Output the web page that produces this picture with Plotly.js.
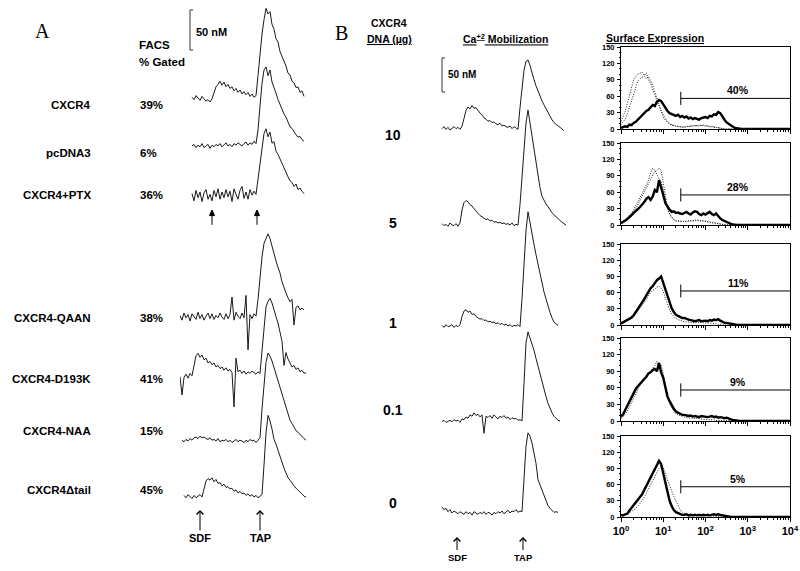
<!DOCTYPE html>
<html><head><meta charset="utf-8">
<script src="https://cdn.plot.ly/plotly-3.0.1.min.js"></script>
<style>html,body{margin:0;padding:0;background:#fff}#chart{width:800px;height:571px}</style>
</head><body><div id="chart"></div>
<script>
// ================= DATA =================
// time (s) shared by all calcium traces
const timeSec = [0,2,4,6,8,10,12,14,16,18,20,22,24,26,28,30,32,34,36,38,40,42,44,46,48,50,52,54,56,58,60,62,64,
66,68,70,72,74,76,78,80,82,84,86,88,90,92,94,96,98,100,102,104,106,108,110,112,114,116,118,120,122,124,126,128,130];

// Panel A: constructs, FACS % gated, Ca2+ traces (nM above baseline)
const constructNames = ['CXCR4','pcDNA3','CXCR4+PTX','CXCR4-QAAN','CXCR4-D193K','CXCR4-NAA','CXCR4\u0394tail'];
const facsGated = ['39%','6%','36%','38%','41%','15%','45%'];

const caA_CXCR4 = [null,null,null,null,null,null,1,-2,3,0,-3,
2,-1,-4,-2,-5,-1,6,14,17,21,16,
20,14,17,12,14,9,12,7,10,5,8,
4,7,2,5,1,3,28,55,80,98,112,
105,108,92,86,74,70,58,52,44,40,31,
29,21,19,13,14,7,9,2,null,null,null];
const caA_pcDNA3 = [null,null,null,null,null,null,0,2,-2,1,-1,
3,-2,0,2,-3,1,-1,2,0,3,-1,
1,4,0,2,-1,3,1,4,2,0,3,
5,1,4,2,6,3,20,50,78,95,99,
88,95,80,74,66,58,52,45,40,36,31,
24,22,17,14,11,12,8,6,null,null,null];
const caA_PTX = [null,null,null,null,null,null,3,-6,7,-2,5,
-7,4,8,-4,2,-6,7,-1,9,-4,5,
-2,8,-1,6,-7,9,2,-4,7,12,-3,
5,-4,8,1,6,2,22,45,65,78,84,
74,80,66,68,56,52,46,42,34,30,24,
19,17,12,15,8,10,6,3,null,null,null];
const caA_QAAN = [2,-4,5,-1,3,-5,4,0,-3,6,-2,
3,-4,1,5,-2,4,-3,2,-1,5,0,
-3,4,-2,3,25,-4,6,1,-2,5,-1,
27,-41,3,-2,4,1,22,50,75,92,99,
104,98,88,80,70,62,55,44,36,30,24,
19,22,-10,12,14,9,11,9,null,null,null];
const caA_D193K = [-2,-25,-3,1,-4,2,-1,12,24,27,22,
25,19,21,15,17,13,15,10,12,8,10,
6,9,5,7,3,-40,21,4,6,2,5,
1,4,2,5,3,1,4,2,30,62,85,
92,96,90,80,73,65,55,42,12,28,20,
14,10,12,7,9,4,6,2,3,null,null];
const caA_NAA = [null,1,-1,2,0,3,1,4,5,3,6,
4,5,3,2,4,1,2,0,3,-1,1,
0,2,-1,1,-2,0,2,-1,1,0,-2,
1,-1,2,0,1,-2,1,4,40,75,98,
110,106,100,92,84,76,68,58,51,44,36,
26,22,17,13,11,8,5,3,1,null,null];
const caA_dtail = [null,null,2,-1,3,0,-2,2,-1,1,3,
0,12,20,23,21,24,19,22,17,18,14,
16,12,13,10,11,7,9,5,7,4,5,
2,4,1,3,0,2,-1,1,3,40,80,
102,95,85,72,66,58,50,44,36,30,24,
21,17,14,11,8,6,4,1,0,null,null];

// Panel B: CXCR4 DNA doses (ug) and Ca2+ traces (nM above baseline)
const doses = ['10','5','1','0.1','0'];
const caB_10 = [null,-1,2,-2,1,-3,0,2,-1,1,-2,
3,14,26,31,28,33,29,30,25,22,19,
15,13,10,11,8,9,6,5,7,3,4,
2,1,3,-1,2,0,-2,30,60,85,98,
100,92,80,71,62,54,46,40,34,28,23,
17,12,8,5,3,1,-2,-4,null,null,null];
const caB_5 = [null,2,-1,1,-2,3,0,-1,2,-2,3,
22,33,36,34,30,28,24,20,17,14,12,
10,8,9,6,7,4,5,3,4,2,3,
1,2,0,3,-1,1,0,30,70,110,150,
169,150,128,108,88,70,55,42,36,31,27,
22,18,15,12,10,7,4,2,0,null,null];
const caB_1 = [null,1,-2,2,-1,0,2,-2,1,-1,2,
14,22,24,20,22,17,18,14,12,10,11,
8,9,6,7,5,6,3,5,2,4,1,
3,0,2,-1,1,0,2,-1,40,95,140,
168,150,135,120,105,90,76,62,50,40,28,
20,12,6,3,1,null,null,null,null,null,null];
const caB_01 = [null,-1,1,-2,0,1,-1,2,0,1,-2,
3,2,6,4,9,7,12,8,10,6,9,
-18,7,5,8,4,9,6,3,7,5,8,
4,6,2,5,3,4,1,2,0,55,115,
131,122,115,104,92,80,70,58,46,36,26,
18,12,7,4,1,0,null,null,null,null,null];
const caB_0 = [null,6,2,4,-1,2,-3,0,-2,-4,-1,
-3,-5,-1,-4,-2,-6,-1,-3,-5,-2,-4,
-1,-5,-2,-3,-6,-2,-4,-1,-3,0,-4,
-2,1,-3,0,-1,2,-2,0,-1,40,95,
115,110,100,85,70,46,38,31,22,13,8,
4,1,-2,-1,-2,null,null,null,null,null,null];

// Surface expression histograms: fluorescence (log bins) and counts
const histX = [1,1.122,1.259,1.413,1.585,1.778,1.995,2.239,2.512,2.818,
3.162,3.548,3.981,4.467,5.012,5.623,6.310,7.079,7.943,8.913,
10,11.22,12.59,14.13,15.85,17.78,19.95,22.39,25.12,28.18,
31.62,35.48,39.81,44.67,50.12,56.23,63.10,70.79,79.43,89.13,
100,112.2,125.9,141.3,158.5,177.8,199.5,223.9,251.2,281.8,
316.2,354.8,398.1,446.7,501.2,562.3,631.0,707.9,794.3,891.3,
1000,3162,10000];

const hist10_cxcr4 = [2,3,5,4,8,7,11,13,17,20, 24,29,33,35,40,44,42,50,53,51, 45,38,33,29,27,25,24,26,22,24,
21,23,19,21,18,20,19,17,20,21, 22,20,24,23,27,26,31,29,22,17, 12,9,6,4,2,1,0,0,0,0, 0,0,0];
const hist10_ctrlA = [14,22,32,47,62,78,90,96,100,102, 104,98,103,90,84,72,62,50,40,30, 22,16,12,9,7,6,5,4,4,3,
4,5,4,6,5,7,6,7,6,7, 6,5,5,4,4,3,2,1,1,0, 0,0,0,0,0,0,0,0,0,0, 0,0,0];
const hist10_ctrlB = [8,12,18,28,40,55,68,80,88,92, 95,97,92,96,88,80,68,56,44,34, 26,19,14,10,8,6,5,5,4,4,
3,4,5,5,6,6,5,6,7,6, 5,6,4,5,3,3,2,2,1,0, 0,0,0,0,0,0,0,0,0,0, 0,0,0];

const hist5_cxcr4 = [3,5,8,11,14,18,22,25,29,33, 37,42,48,51,46,52,64,60,82,70, 55,40,33,28,24,25,22,23,21,20,
22,24,21,19,23,25,24,20,18,21, 19,22,24,20,18,21,16,12,9,7, 5,4,2,1,0,0,0,0,0,0, 0,0,0];
const hist5_ctrlA = [5,7,10,14,18,22,28,35,42,50, 58,66,75,82,95,104,100,92,85,80, 62,45,30,20,14,10,8,8,7,7,
6,7,8,7,8,9,8,9,8,7, 6,5,5,4,4,3,2,1,1,0, 0,0,0,0,0,0,0,0,0,0, 0,0,0];
const hist5_ctrlB = [4,6,8,11,15,19,24,30,37,44, 52,60,68,76,84,92,98,100,104,100, 75,52,32,20,13,9,7,7,6,6,
7,6,7,8,7,8,9,8,7,8, 7,6,5,5,4,3,3,2,1,0, 0,0,0,0,0,0,0,0,0,0, 0,0,0];

const hist1_cxcr4 = [3,5,7,9,11,14,18,24,30,34, 40,48,55,62,68,72,78,83,86,90, 78,66,52,40,31,24,19,17,15,13,
13,11,10,9,8,7,8,9,7,8, 8,7,9,8,10,9,11,8,6,4, 4,3,2,1,1,0,0,0,0,0, 0,0,0];
const hist1_ctrl = [2,3,5,7,9,12,15,20,25,30, 35,42,48,55,60,64,66,70,72,68, 62,50,38,28,20,15,12,10,8,7,
6,6,5,6,5,4,5,4,5,4, 4,3,4,3,3,2,2,1,1,0, 0,0,0,0,0,0,0,0,0,0, 0,0,0];

const hist01_cxcr4 = [8,12,20,28,36,45,52,58,63,68, 72,76,80,86,88,92,94,90,105,88, 78,60,44,36,28,22,17,15,13,11,
11,10,9,10,8,9,8,7,9,8, 8,7,8,9,7,8,6,7,6,5, 6,4,3,2,1,0,0,0,0,0, 0,0,0];
const hist01_ctrl = [5,8,12,18,25,33,42,50,58,65, 70,75,80,85,88,95,100,108,98,102, 85,65,45,32,24,18,13,11,9,8,
7,6,6,5,5,4,5,4,4,3, 3,3,2,2,2,1,1,1,0,0, 0,0,0,0,0,0,0,0,0,0, 0,0,0];

const hist0_cxcr4 = [4,3,5,6,12,17,22,26,30,36, 42,50,58,66,74,82,88,95,104,98, 81,62,44,30,20,13,9,7,5,4,
4,5,3,4,3,4,3,4,3,4, 3,4,3,4,5,4,5,4,3,2, 2,1,0,0,0,0,0,0,0,0, 0,0,0];
const hist0_ctrl = [2,3,4,6,8,10,13,16,20,25, 30,36,44,52,60,68,76,84,90,95, 92,80,68,58,48,38,31,22,13,9,
7,5,5,4,4,3,4,3,3,2, 3,2,2,2,1,1,1,1,0,0, 0,0,0,0,0,0,0,0,0,0, 0,0,0];

const gateLabels = ['40%','28%','11%','9%','5%'];
const gateStart = 26;                 // fluorescence where the gate begins
const gateLevels = [56,55,63,56,56];  // count level where the gate marker is drawn
const histTicksY = [0,30,60,90,120,150];
const histTicksX = [1,10,100,1000,10000];
const histTickText = ['10<sup>0</sup>','10<sup>1</sup>','10<sup>2</sup>','10<sup>3</sup>','10<sup>4</sup>'];

// stimulus times (s) marked by arrows
const ptxArrowTimes = [32, 77];

// ================= LAYOUT HELPERS =================
const W = 800, H = 571;
const fx = p => p / W;
const fy = p => 1 - p / H;
const FONT = 'Liberation Sans, Arial, Helvetica, sans-serif';
const SERIF = 'Liberation Serif, Times New Roman, serif';

const tracesA = [caA_CXCR4, caA_pcDNA3, caA_PTX, caA_QAAN, caA_D193K, caA_NAA, caA_dtail];
const baseA = [98, 146, 196, 317, 375, 441, 497];
const labelYA = [97, 145, 195, 318, 379, 439, 498];
const pxA = 0.8;   // px per nM
const tracesB = [caB_10, caB_5, caB_1, caB_01, caB_0];
const baseB = [128, 225, 326, 421, 511];
const labelYB = [125, 223, 323, 420, 513];
const pxB = 0.68;

const histSets = [
  {solid: hist10_cxcr4, dotted: [hist10_ctrlA, hist10_ctrlB]},
  {solid: hist5_cxcr4, dotted: [hist5_ctrlA, hist5_ctrlB]},
  {solid: hist1_cxcr4, dotted: [hist1_ctrl]},
  {solid: hist01_cxcr4, dotted: [hist01_ctrl]},
  {solid: hist0_cxcr4, dotted: [hist0_ctrl]}
];
const histTop = [47, 143, 244, 338, 436];
const histBot = [129, 225, 325, 421, 517];

const data = [];
const layout = {
  width: W, height: H,
  margin: {l: 0, r: 0, t: 0, b: 0, pad: 0},
  paper_bgcolor: '#fff', plot_bgcolor: 'rgba(0,0,0,0)',
  showlegend: false, hovermode: false,
  font: {family: FONT, color: '#000'},
  annotations: []
};
const ann = layout.annotations;

// Panel A axes + traces
layout.xaxis = {domain: [fx(180), fx(310)], range: [0, 130], visible: false, anchor: 'y', fixedrange: true};
tracesA.forEach((vals, i) => {
  const id = i + 1, b = baseA[i];
  layout['yaxis' + id] = {domain: [fy(b + 40), fy(b - 96)], range: [-40 / pxA, 96 / pxA],
    visible: false, anchor: 'x', fixedrange: true};
  data.push({type: 'scatter', mode: 'lines', x: timeSec, y: vals, xaxis: 'x', yaxis: 'y' + id,
    line: {color: '#1a1a1a', width: 1}, connectgaps: false});
});
// Panel A scale bar (50 nM) on first trace axis
data.push({type: 'scatter', mode: 'lines', x: [13, 10, 10, 13], y: [110, 110, 60, 60], xaxis: 'x', yaxis: 'y',
  line: {color: '#333', width: 1}});
ann.push({xref: 'x', yref: 'y', x: 13.5, y: 82, text: '<b>50 nM</b>', showarrow: false, xanchor: 'left',
  font: {size: 11, family: FONT, color: '#000'}});
// arrows under the CXCR4+PTX trace (drawn in its own nM units)
ptxArrowTimes.forEach(t => {
  data.push({type: 'scatter', mode: 'lines', x: [t, t], y: [-36, -20], xaxis: 'x', yaxis: 'y3',
    line: {color: '#000', width: 1}});
  data.push({type: 'scatter', mode: 'lines', x: [t - 2.5, t, t + 2.5, t - 2.5], y: [-24.5, -17.5, -24.5, -24.5],
    xaxis: 'x', yaxis: 'y3', fill: 'toself', fillcolor: '#000', line: {color: '#000', width: 1}});
});

// Panel B axes + traces
layout.xaxis2 = {domain: [fx(440), fx(570)], range: [0, 130], visible: false, anchor: 'y8', fixedrange: true};
tracesB.forEach((vals, i) => {
  const id = i + 8, b = baseB[i];
  layout['yaxis' + id] = {domain: [fy(b + 20), fy(b - 128)], range: [-20 / pxB, 128 / pxB],
    visible: false, anchor: 'x2', fixedrange: true};
  data.push({type: 'scatter', mode: 'lines', x: timeSec, y: vals, xaxis: 'x2', yaxis: 'y' + id,
    line: {color: '#1a1a1a', width: 1}, connectgaps: false});
});
data.push({type: 'scatter', mode: 'lines', x: [5, 2, 2, 5], y: [103, 103, 53, 53], xaxis: 'x2', yaxis: 'y8',
  line: {color: '#333', width: 1}});
ann.push({xref: 'x2', yref: 'y8', x: 5.5, y: 78, text: '<b>50 nM</b>', showarrow: false, xanchor: 'left',
  font: {size: 10, family: FONT, color: '#000'}});

// Histograms
const minorX = [];
[1, 10, 100, 1000].forEach(d => { for (let k = 2; k <= 9; k++) minorX.push(d * k); });
histSets.forEach((hs, i) => {
  const xid = i + 3, yid = i + 13;
  layout['xaxis' + xid] = {domain: [fx(621), fx(790)], type: 'log', range: [0, 4], anchor: 'y' + yid,
    showline: true, mirror: true, linecolor: '#000', linewidth: 1, showgrid: false, zeroline: false,
    ticks: 'outside', ticklen: 4, tickwidth: 1, tickcolor: '#000', tickmode: 'array',
    tickvals: histTicksX, ticktext: histTickText, showticklabels: i === 4,
    tickfont: {size: 11, family: FONT, color: '#000', weight: 'bold'},
    minor: {tickmode: 'array', tickvals: minorX, ticks: 'outside', ticklen: 2, tickcolor: '#000', showgrid: false},
    fixedrange: true};
  layout['yaxis' + yid] = {domain: [fy(histBot[i]), fy(histTop[i])], range: [0, 150], anchor: 'x' + xid,
    showline: true, mirror: true, linecolor: '#000', linewidth: 1, showgrid: false, zeroline: false,
    ticks: 'outside', ticklen: 3, tickwidth: 1, tickcolor: '#000', tickmode: 'array', tickvals: histTicksY,
    tickfont: {size: 7.5, family: FONT, color: '#000', weight: 'bold'}, ticklabelstandoff: 1,
    minor: {dtick: 10, ticks: 'outside', ticklen: 1.5, tickcolor: '#000', showgrid: false},
    fixedrange: true};
  hs.dotted.forEach(d => data.push({type: 'scatter', mode: 'lines', x: histX, y: d,
    xaxis: 'x' + xid, yaxis: 'y' + yid, line: {color: '#222', width: 1, dash: '1px,1.5px'}}));
  data.push({type: 'scatter', mode: 'lines', x: histX, y: hs.solid, xaxis: 'x' + xid, yaxis: 'y' + yid,
    line: {color: '#000', width: 2.4}});
  const lv = gateLevels[i];
  data.push({type: 'scatter', mode: 'lines', x: [gateStart, gateStart, null, gateStart, 10000],
    y: [lv - 12, lv + 12, null, lv, lv], xaxis: 'x' + xid, yaxis: 'y' + yid,
    line: {color: '#000', width: 1}, connectgaps: false});
  ann.push({xref: 'x' + xid, yref: 'y' + yid, x: 2.77, y: lv, yshift: 8, text: '<b>' + gateLabels[i] + '</b>',
    showarrow: false, font: {size: 10.5, family: FONT, color: '#000'}});
});

// ---------- text annotations ----------
function txt(x, y, text, size, opts) {
  ann.push(Object.assign({xref: 'paper', yref: 'paper', x: fx(x), y: fy(y), text: text, showarrow: false,
    font: {size: size, family: FONT, color: '#000'}}, opts || {}));
}
txt(33, 18, 'A', 20, {font: {size: 20, family: SERIF, color: '#000'}});
txt(341, 20, 'B', 20, {font: {size: 20, family: SERIF, color: '#000'}});
txt(137, 37, '<b>FACS</b>', 11.5);
txt(137, 54, '<b>% Gated</b>', 11.5);
constructNames.forEach((n, i) => txt(93, labelYA[i], '<b>' + n + '</b>', 11.5, {xanchor: 'right'}));
facsGated.forEach((p, i) => txt(138, labelYA[i], '<b>' + p + '</b>', 11.5));
txt(389, 15, '<b>CXCR4</b>', 10.5);
txt(389, 31, '<b><u>DNA (\u00b5g)</u></b>', 10.5);
txt(505, 30, '<b><u>Ca<sup>+2</sup> Mobilization</u></b>', 10.5);
txt(706, 30, '<b><u>Surface Expression</u></b>', 10.5);
doses.forEach((d, i) => txt(393, labelYB[i], '<b>' + d + '</b>', 14));

// labelled stimulus arrows
function arrow(xref, t, tipY, ay, label, size) {
  ann.push({xref: xref, yref: 'paper', x: t, y: fy(tipY), ax: 0, ay: ay, text: label,
    showarrow: true, arrowhead: 4, arrowsize: 1.3, arrowwidth: 1, arrowcolor: '#000', standoff: 0,
    font: {size: size, family: FONT, color: '#000'}});
}
arrow('x', 20, 510, 28, '<b>SDF</b>', 11);
arrow('x', 80, 510, 28, '<b>TAP</b>', 11);
arrow('x2', 17, 537, 20, '<b>SDF</b>', 9.5);
arrow('x2', 83, 537, 20, '<b>TAP</b>', 9.5);

Plotly.newPlot('chart', data, layout, {staticPlot: true, displayModeBar: false});
</script>
</body></html>
